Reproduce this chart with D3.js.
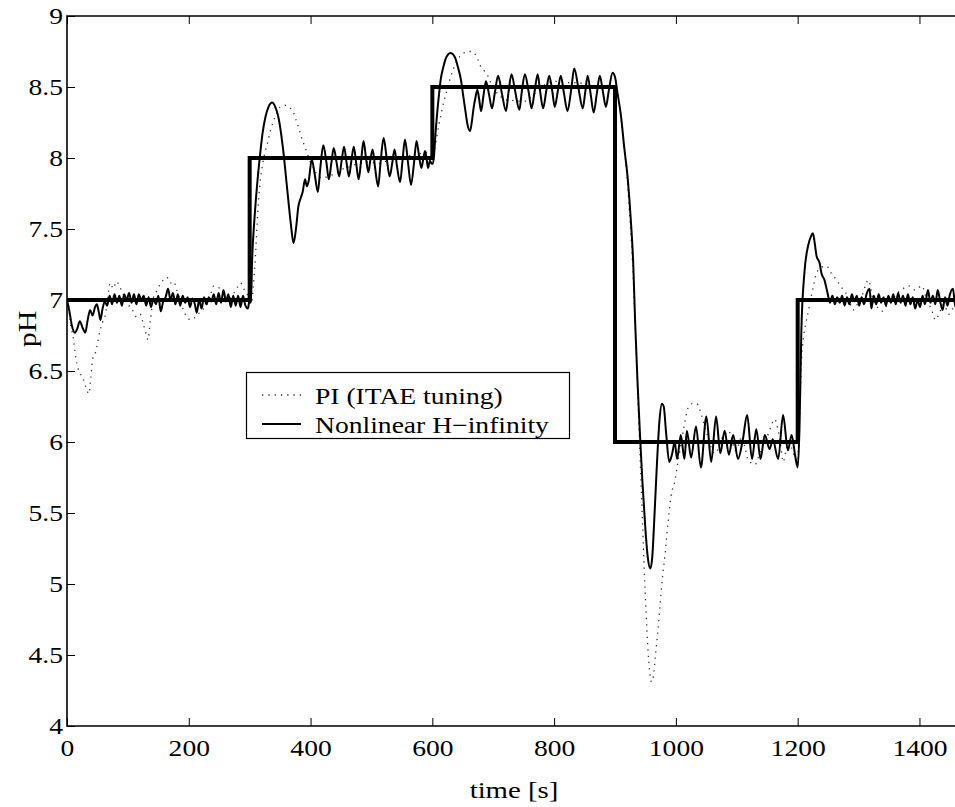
<!DOCTYPE html>
<html>
<head>
<meta charset="utf-8">
<script src="https://cdn.jsdelivr.net/npm/d3@7"></script>
<style>
  body { margin: 0; background: #fff; }
  svg { display: block; }
  svg text { font-family: "Liberation Serif", "Times New Roman", serif; fill: #000; }
</style>
</head>
<body>
<svg id="chart" width="955" height="807"></svg>
<script>
// tick labels
const xTicks = [0, 200, 400, 600, 800, 1000, 1200, 1400];
const yTicks = [4, 4.5, 5, 5.5, 6, 6.5, 7, 7.5, 8, 8.5, 9];

// setpoint (step changes)
const setT = [0, 300, 600, 900, 1200, 1470];
const setV = [7, 8, 8.5, 6, 7, 7];

// PI (ITAE tuning), [time, pH]
const piData = [
  [0,7.0],[3,6.95],[5,6.86],[10,6.74],[15,6.58],[18,6.52],[22,6.48],[26,6.45],[30,6.40],[33,6.36],
  [36,6.34],[39,6.45],[43,6.60],[46,6.62],[49,6.67],[54,6.78],[58,6.84],[62,6.88],[66,6.98],[71,7.12],
  [76,7.08],[81,7.13],[87,7.09],[92,7.04],[98,7.0],[103,6.95],[109,6.92],[114,6.88],[120,6.90],[126,6.82],
  [130,6.76],[133,6.72],[137,6.86],[142,7.02],[147,7.06],[153,7.11],[158,7.14],[164,7.16],[170,7.12],[175,7.13],
  [181,7.06],[186,7.0],[192,6.92],[197,6.88],[203,6.86],[208,6.87],[214,6.89],[219,6.92],[225,6.94],[230,6.97],
  [236,7.04],[241,7.1],[247,7.09],[252,7.08],[258,7.03],[263,7.0],[268,7.02],[274,7.05],[280,7.09],[285,7.12],
  [290,7.08],[296,7.04],[300,7.0],
  [303,6.98],[306,7.1],[310,7.35],[313,7.6],[316,7.78],[320,7.92],[324,8.02],[329,8.1],[334,8.19],[339,8.26],
  [345,8.32],[350,8.36],[356,8.37],[361,8.37],[367,8.35],[372,8.32],[376,8.27],[380,8.22],[384,8.16],[388,8.11],
  [394,8.04],[400,7.97],[406,7.92],[413,7.87],[421,7.86],[428,7.87],[435,7.88],[443,7.90],[451,7.92],[460,7.93],
  [470,7.95],[480,7.96],[490,7.97],[500,7.97],[510,7.96],[520,7.97],[530,7.99],[540,8.0],[550,8.01],[560,8.02],
  [570,8.0],[580,8.03],[590,8.04],[597,8.02],[600,8.0],
  [603,8.05],[607,8.14],[611,8.24],[615,8.32],[619,8.40],[623,8.46],[628,8.54],[634,8.62],[640,8.68],[646,8.72],
  [652,8.74],[658,8.75],[665,8.75],[672,8.72],[680,8.64],[686,8.61],[691,8.58],[697,8.52],[702,8.48],[708,8.45],
  [713,8.43],[720,8.41],[727,8.41],[737,8.40],[746,8.40],[754,8.40],[762,8.43],[770,8.46],[780,8.50],[790,8.53],
  [800,8.54],[812,8.54],[825,8.53],[841,8.53],[852,8.51],[863,8.50],[875,8.49],[885,8.49],[896,8.50],[902,8.48],
  [906,8.42],[910,8.28],[914,8.12],[918,7.95],[921,7.8],[924,7.6],[927,7.4],[930,7.15],[933,6.85],[936,6.5],
  [939,6.15],[942,5.8],[945,5.45],[948,5.1],[951,4.8],[954,4.55],[957,4.38],[960,4.31],[963,4.35],[966,4.48],
  [970,4.65],[974,4.85],[978,5.05],[982,5.2],[987,5.43],[992,5.62],[998,5.72],[1003,5.85],[1008,5.98],[1013,6.1],
  [1020,6.24],[1027,6.27],[1034,6.27],[1042,6.19],[1048,6.1],[1053,6.03],[1058,5.96],[1064,5.92],[1070,5.96],[1075,6.02],
  [1081,6.06],[1086,6.08],[1092,6.02],[1097,5.94],[1103,5.98],[1108,6.04],[1114,5.95],[1119,5.87],[1125,5.85],[1130,5.84],
  [1136,5.9],[1141,5.96],[1147,6.02],[1152,6.06],[1157,6.12],[1162,6.16],[1168,6.08],[1172,5.98],[1176,5.86],[1181,5.94],
  [1185,6.0],[1190,5.96],[1195,5.9],[1200,5.86],[1203,6.15],[1206,6.55],[1210,6.75],[1214,6.85],[1218,6.93],[1222,7.02],
  [1226,7.1],[1231,7.19],[1239,7.23],[1247,7.24],[1255,7.19],[1264,7.14],[1272,7.09],[1283,7.02],[1291,6.93],[1298,6.97],
  [1305,7.02],[1311,7.1],[1316,7.14],[1324,7.0],[1331,6.95],[1338,6.92],[1346,6.96],[1355,7.0],[1364,7.05],[1373,7.08],
  [1382,7.1],[1393,7.07],[1404,7.1],[1412,7.0],[1420,6.93],[1426,6.86],[1432,6.9],[1440,6.97],[1448,6.9],[1455,6.94],
  [1465,6.97]
];

// Nonlinear H-infinity, [time, pH]
const hinfData = [
  [0,7.0],[4,6.92],[8,6.82],[13,6.77],[17,6.80],[21,6.85],[26,6.80],[30,6.77],[34,6.86],[38,6.93],
  [42,6.89],[46,6.95],[49,6.97],[52,6.92],[55,6.86],[58,6.93],[62,6.99],[66,6.96],[70,7.03],[74,6.97],
  [78,7.04],[82,6.98],[86,7.03],[90,6.96],[94,7.04],[98,7.0],[102,7.05],[106,6.98],[110,7.04],[114,6.97],
  [118,7.04],[122,7.0],[126,7.03],[130,6.96],[134,7.02],[138,6.95],[142,7.01],[146,6.97],[150,7.03],[154,6.92],
  [158,6.99],[162,7.02],[166,7.08],[170,7.0],[174,7.05],[178,6.97],[182,7.04],[186,6.96],[190,7.03],[194,6.98],
  [198,7.02],[202,6.95],[206,7.01],[210,6.97],[213,6.91],[217,7.0],[221,6.94],[225,7.02],[229,6.97],[233,7.02],
  [237,6.99],[241,7.04],[245,6.97],[249,7.05],[253,6.98],[257,7.07],[261,6.99],[265,7.04],[269,6.95],[273,7.03],
  [277,6.96],[281,7.03],[285,6.95],[289,7.03],[293,6.96],[297,6.94],[300,7.0],
  [302,6.98],[304,7.28],[308,7.58],[312,7.80],[317,8.02],[321,8.17],[326,8.29],[331,8.36],[337,8.39],[342,8.36],
  [347,8.29],[352,8.16],[356,8.02],[360,7.85],[364,7.68],[368,7.52],[372,7.40],[376,7.50],[380,7.66],[384,7.72],
  [387,7.76],[391,7.85],[394,7.80],[397,7.84],[402,7.99],[407,7.88],[412,7.76],[416,7.93],[421,8.09],[426,7.97],
  [430,7.85],[434,7.96],[438,8.07],[443,7.96],[447,7.87],[451,7.98],[455,8.08],[459,7.97],[463,7.87],[467,7.98],
  [471,8.08],[475,7.96],[479,7.85],[483,7.98],[487,8.12],[491,8.0],[495,7.90],[498,7.98],[502,8.06],[506,7.93],
  [511,7.80],[515,7.97],[520,8.14],[525,8.0],[530,7.87],[534,7.96],[538,8.06],[542,7.94],[547,7.83],[551,7.98],
  [555,8.13],[560,7.97],[565,7.81],[570,7.97],[574,8.12],[578,8.02],[582,7.93],[585,7.99],[588,8.05],[591,7.98],
  [593,7.93],[596,7.98],[599,7.96],
  [601,7.96],[603,8.03],[605,8.16],[608,8.32],[611,8.45],[614,8.56],[618,8.64],[622,8.70],[626,8.73],[630,8.74],
  [634,8.73],[638,8.70],[642,8.64],[647,8.55],[651,8.43],[655,8.31],[658,8.23],[662,8.19],[665,8.26],[668,8.36],
  [671,8.43],[674,8.48],[677,8.41],[680,8.33],[684,8.44],[688,8.54],[693,8.45],[698,8.35],[703,8.47],[708,8.58],
  [714,8.46],[721,8.33],[725,8.46],[730,8.59],[736,8.47],[743,8.34],[747,8.47],[752,8.59],[758,8.47],[763,8.35],
  [768,8.47],[773,8.59],[777,8.47],[782,8.35],[787,8.47],[792,8.58],[797,8.47],[801,8.36],[806,8.47],[811,8.58],
  [816,8.46],[822,8.33],[828,8.48],[833,8.63],[840,8.49],[847,8.35],[851,8.46],[855,8.58],[860,8.45],[865,8.32],
  [870,8.45],[875,8.58],[880,8.47],[885,8.36],[890,8.48],[896,8.60],[900,8.57],[904,8.46],[910,8.29],[915,8.08],
  [921,7.85],[926,7.56],[930,7.25],[933,6.85],[937,6.42],[941,6.05],[945,5.72],[950,5.38],[954,5.18],[958,5.11],
  [961,5.18],[965,5.50],[969,5.86],[973,6.15],[977,6.27],[980,6.25],[984,6.06],[989,5.86],[994,5.92],[998,6.0],
  [1002,5.88],[1008,6.05],[1014,5.88],[1018,6.08],[1025,5.89],[1033,6.11],[1041,5.82],[1050,6.18],[1058,5.86],[1066,6.18],
  [1073,5.92],[1080,6.08],[1087,5.91],[1094,6.05],[1102,5.88],[1110,6.02],[1117,6.19],[1125,5.88],[1132,6.09],[1139,5.88],
  [1146,6.05],[1154,5.95],[1159,6.02],[1168,5.88],[1176,6.19],[1184,5.94],[1190,6.05],[1196,5.9],[1200,5.82],[1203,6.1],
  [1206,6.78],[1211,7.19],[1217,7.38],[1222,7.45],[1225,7.47],[1228,7.40],[1231,7.31],[1236,7.26],[1239,7.19],[1244,7.14],
  [1249,7.05],[1253,6.98],[1257,7.03],[1261,6.97],[1265,7.02],[1269,6.98],[1273,7.03],[1277,6.96],[1281,7.02],[1285,6.97],
  [1289,7.04],[1293,6.99],[1297,7.03],[1301,6.96],[1305,7.02],[1309,6.97],[1313,7.04],[1318,7.08],[1321,6.94],[1325,7.03],
  [1329,6.97],[1333,7.04],[1337,6.98],[1341,7.02],[1345,6.96],[1349,7.03],[1353,6.98],[1357,7.04],[1361,6.97],[1365,7.05],
  [1369,6.98],[1373,7.03],[1377,6.96],[1381,7.04],[1385,6.97],[1389,7.02],[1393,6.94],[1397,7.0],[1401,6.95],[1405,7.03],
  [1409,6.97],[1414,7.07],[1418,6.98],[1422,7.03],[1426,6.97],[1430,7.07],[1434,6.99],[1438,6.93],[1442,7.02],[1446,6.96],
  [1450,7.04],[1455,7.08],[1459,6.95],[1465,7.02]
];

const legendLabels = ['PI (ITAE tuning)', 'Nonlinear H\u2212infinity'];
const xLabel = 'time [s]';
const yLabel = 'pH';

const margin = { top: 16, left: 67 };
const plotW = 889;
const plotH = 710;
const stretchX = 1.2; // glyphs in the reference are a bit wide

const svg = d3.select('#chart');

const x = d3.scaleLinear().domain([0, 1460]).range([margin.left, margin.left + plotW]);
const y = d3.scaleLinear().domain([4, 9]).range([margin.top + plotH, margin.top]);

svg.append('defs').append('clipPath').attr('id', 'plot-clip')
  .append('rect')
  .attr('x', margin.left).attr('y', margin.top)
  .attr('width', plotW).attr('height', plotH);

// axes
const axisB = d3.axisBottom(x).tickValues(xTicks).tickSize(-8).tickPadding(14).tickFormat(d3.format('d'));
const axisT = d3.axisTop(x).tickValues(xTicks).tickSize(-8).tickFormat('');
const axisL = d3.axisLeft(y).tickValues(yTicks).tickSize(-8).tickPadding(4 / stretchX).tickFormat(d => d);

function styleAxis(g) {
  g.attr('font-family', null).attr('font-size', 23);
  g.select('.domain').remove();
  g.selectAll('.tick line').attr('stroke', '#000').attr('stroke-width', 1);
  g.selectAll('.tick text')
    .attr('transform', `scale(${stretchX},1)`);
}

svg.append('g').attr('transform', `translate(0,${margin.top + plotH})`).call(axisB).call(styleAxis);
svg.append('g').attr('transform', `translate(0,${margin.top})`).call(axisT).call(styleAxis);
svg.append('g').attr('transform', `translate(${margin.left},0)`).call(axisL).call(styleAxis);

// series
const lines = svg.append('g').attr('clip-path', 'url(#plot-clip)');

const curveLine = d3.line()
  .x(d => x(d[0]))
  .y(d => y(d[1]))
  .curve(d3.curveMonotoneX);

const stepLine = d3.line()
  .x(d => x(d[0]))
  .y(d => y(d[1]))
  .curve(d3.curveStepAfter);

lines.append('path')
  .datum(piData)
  .attr('fill', 'none')
  .attr('stroke', '#333')
  .attr('stroke-width', 1.3)
  .attr('stroke-dasharray', '1.3,5')
  .attr('d', curveLine);

lines.append('path')
  .datum(setT.map((t, i) => [t, setV[i]]))
  .attr('fill', 'none')
  .attr('stroke', '#000')
  .attr('stroke-width', 4)
  .attr('d', stepLine);

lines.append('path')
  .datum(hinfData)
  .attr('fill', 'none')
  .attr('stroke', '#000')
  .attr('stroke-width', 2)
  .attr('stroke-linejoin', 'round')
  .attr('d', curveLine);

// frame (left, top, bottom)
svg.append('path')
  .attr('fill', 'none')
  .attr('stroke', '#000')
  .attr('stroke-width', 1.6)
  .attr('d', `M${margin.left + plotW + 2},${margin.top}H${margin.left}V${margin.top + plotH}H${margin.left + plotW + 2}`);

// axis labels
svg.append('text')
  .attr('transform', `translate(514,798) scale(${stretchX},1)`)
  .attr('text-anchor', 'middle')
  .attr('font-size', 24)
  .text(xLabel);

svg.append('text')
  .attr('transform', `translate(36,329) rotate(-90) scale(${stretchX},1)`)
  .attr('text-anchor', 'middle')
  .attr('font-size', 25)
  .text(yLabel);

// legend
const legend = svg.append('g');
legend.append('rect')
  .attr('x', 246.5).attr('y', 372.5)
  .attr('width', 323).attr('height', 66)
  .attr('fill', '#fff')
  .attr('stroke', '#000')
  .attr('stroke-width', 1.2);

const legendStyles = [
  { dash: '1.3,5', width: 1.3, color: '#333' },
  { dash: null, width: 2, color: '#000' }
];

legendLabels.forEach((label, i) => {
  const ly = 395 + i * 29;
  legend.append('line')
    .attr('x1', 262).attr('x2', 301)
    .attr('y1', ly).attr('y2', ly)
    .attr('stroke', legendStyles[i].color)
    .attr('stroke-width', legendStyles[i].width)
    .attr('stroke-dasharray', legendStyles[i].dash);
  legend.append('text')
    .attr('transform', `translate(315,${ly + 2}) scale(${stretchX},1)`)
    .attr('font-size', 23)
    .attr('dy', '0.32em')
    .text(label);
});
</script>
</body>
</html>
